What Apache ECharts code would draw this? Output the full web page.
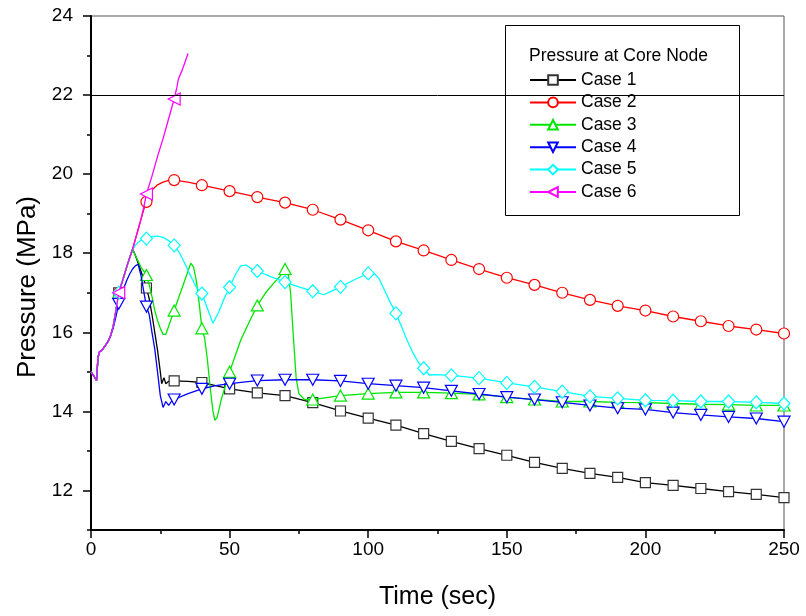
<!DOCTYPE html>
<html><head><meta charset="utf-8">
<script src="https://cdn.jsdelivr.net/npm/echarts@6/dist/echarts.min.js"></script>
<style>html,body{margin:0;padding:0;background:#fff}#c{width:806px;height:616px}</style>
</head><body><div id="c"></div>
<script>
// ---- data (time in sec, pressure in MPa) ----
const seriesNames = ['Case 1', 'Case 2', 'Case 3', 'Case 4', 'Case 5', 'Case 6'];
const legendTitle = 'Pressure at Core Node';
const xName = 'Time (sec)';
const yName = 'Pressure (MPa)';
const yMajorTicks = [12, 14, 16, 18, 20, 22, 24];
const yMinorTicks = [11, 13, 15, 17, 19, 21, 23];
const limitPressure = 22;

// shared initial transient (all cases)
const earlyTime = [0, 1, 2, 2.5, 3, 4, 5, 6, 7, 8, 9, 10, 11, 12, 13, 14, 15];
const earlyP = [15.0, 14.9, 14.78, 15.35, 15.5, 15.55, 15.65, 15.75, 15.9, 16.15, 16.55, 17.0, 17.22, 17.45, 17.68, 17.9, 18.1];

const case1Time = [16,17,18,19,20,21,22,23,24,25,25.5,26.3,27,28,30,35,40,45,50,55,60,70,80,90,100,110,120,130,140,150,160,170,180,190,200,210,220,230,240,250];
const case1P = [17.95,17.75,17.55,17.35,17.12,16.85,16.45,16.0,15.55,15.0,14.7,14.85,14.7,14.76,14.77,14.76,14.73,14.65,14.57,14.52,14.47,14.4,14.22,14.01,13.83,13.65,13.44,13.24,13.06,12.89,12.71,12.56,12.43,12.33,12.2,12.13,12.05,11.97,11.9,11.82];

const case2Time = [16,17,18,19,20,21,22,24,26,28,30,35,40,50,60,70,80,90,100,110,120,130,140,150,160,170,180,190,200,210,220,230,240,250];
const case2P = [18.35,18.6,18.85,19.1,19.3,19.48,19.6,19.73,19.8,19.84,19.85,19.8,19.72,19.57,19.42,19.28,19.1,18.85,18.58,18.3,18.07,17.83,17.6,17.38,17.2,17.0,16.82,16.67,16.55,16.4,16.28,16.16,16.07,15.97];

const case3Time = [16,17,18,19,20,21,22,23,24,25,26,27,28,29,30,32,34,36,37,38,39,40,41,42,43,44,44.7,45.5,47,50,52,54,57,60,63,66,68,70,71,72,73,74,75,77,80,90,100,110,120,130,140,150,160,170,180,190,200,210,220,230,240,250];
const case3P = [17.95,17.8,17.65,17.55,17.45,17.2,16.9,16.55,16.3,16.1,15.95,15.95,16.15,16.35,16.55,16.95,17.35,17.75,17.65,17.3,16.75,16.1,15.85,15.3,14.6,14.0,13.77,13.85,14.3,15.0,15.4,15.8,16.25,16.68,17.0,17.25,17.4,17.6,17.55,17.0,15.9,14.85,14.45,14.3,14.3,14.4,14.45,14.48,14.48,14.46,14.43,14.36,14.3,14.25,14.25,14.23,14.22,14.2,14.18,14.17,14.15,14.15];

const case4Time = [8,9,10,11,12,13,14,15,16,17,18,19,20,21,22,23,24,25,26,27,28,29,30,35,40,45,50,60,70,80,90,100,110,120,130,140,150,160,170,180,190,200,210,220,230,240,250];
const case4P = [16.1,16.4,16.72,16.95,17.15,17.33,17.48,17.6,17.68,17.72,17.45,17.05,16.65,16.45,16.0,15.58,15.0,14.4,14.1,14.25,14.15,14.25,14.3,14.45,14.57,14.65,14.7,14.78,14.8,14.8,14.77,14.7,14.65,14.6,14.52,14.44,14.36,14.3,14.23,14.15,14.08,14.05,13.97,13.91,13.86,13.82,13.74];

const case5Time = [16,17,18,20,22,24,26,28,30,32,34,36,38,40,42,44,46,48,50,52,54,56,58,60,65,70,75,80,84,87,90,95,100,102,104,106,108,110,112,114,116,118,120,122,125,130,140,150,160,170,180,190,200,210,220,230,240,250];
const case5P = [18.2,18.28,18.33,18.37,18.42,18.43,18.4,18.32,18.2,18.0,17.72,17.42,17.14,16.98,16.6,16.23,16.5,16.85,17.14,17.45,17.68,17.7,17.6,17.55,17.4,17.27,17.15,17.04,16.95,17.05,17.15,17.33,17.49,17.5,17.35,17.05,16.75,16.48,16.15,15.8,15.5,15.25,15.09,14.92,14.93,14.91,14.84,14.72,14.62,14.5,14.38,14.33,14.28,14.27,14.25,14.25,14.23,14.2];

const case6Time = [16,17,18,19,20,22,24,26,28,30,31,31.5,32,33,34,35];
const case6P = [18.35,18.6,18.85,19.15,19.5,19.95,20.45,20.9,21.4,21.9,22.2,22.4,22.35,22.65,22.85,23.05];

// ---- build ----
const FONT = '"Liberation Sans", Arial, sans-serif';
function join(tA, pA, tB, pB) { return { t: tA.concat(tB), p: pA.concat(pB) }; }
const early4T = earlyTime.filter(t => t < 8);
const early4P = earlyP.slice(0, early4T.length);
const cases = [
  join(earlyTime, earlyP, case1Time, case1P),
  join(earlyTime, earlyP, case2Time, case2P),
  join(earlyTime, earlyP, case3Time, case3P),
  join(early4T, early4P, case4Time, case4P),
  join(earlyTime, earlyP, case5Time, case5P),
  join(earlyTime, earlyP, case6Time, case6P)
];
cases.forEach((c, i) => { if (c.t.length !== c.p.length) throw new Error('length mismatch case ' + (i + 1)); });
function build(c) {
  return c.t.map((t, i) => {
    const item = { value: [t, c.p[i]] };
    if (!(t > 0 && t % 10 === 0)) item.symbol = 'none';
    return item;
  });
}
const colors = ['#000000', '#ff0000', '#00e600', '#0000ff', '#00ffff', '#ff00ff'];
const markerBorder = ['#333333', '#ff0000', '#00e600', '#0000ff', '#00ffff', '#ff00ff'];
const symbols = ['rect', 'circle', 'triangle', 'triangle', 'diamond', 'triangle'];
const symbolSizes = [[10, 10], [11, 11], [12, 11], [12, 11], [12, 13], [12, 12]];
const symbolRot = [0, 0, 0, 180, 0, 90];

const series = cases.map((c, i) => {
  const s = {
    name: seriesNames[i], type: 'line', data: build(c),
    symbol: symbols[i], symbolSize: symbolSizes[i], symbolRotate: symbolRot[i],
    showAllSymbol: true, smooth: false,
    lineStyle: { color: colors[i], width: 1.3 },
    itemStyle: { color: '#ffffff', borderColor: markerBorder[i], borderWidth: 1.2 },
    emphasis: { disabled: true }, z: 2 + i * 0.01
  };
  if (i === 0) {
    s.markLine = {
      silent: true, symbol: ['none', 'none'], label: { show: false },
      lineStyle: { color: '#000', width: 1, type: 'solid' },
      data: [{ yAxis: limitPressure }]
    };
  }
  return s;
});

const chart = echarts.init(document.getElementById('c'), null, { renderer: 'canvas' });
chart.setOption({
  animation: false,
  backgroundColor: '#ffffff',
  textStyle: { fontFamily: FONT },
  grid: { left: 91, right: 22, top: 16, bottom: 86, show: true, borderColor: '#555', borderWidth: 1, backgroundColor: 'transparent' },
  xAxis: {
    type: 'value', min: 0, max: 250, interval: 50,
    axisLine: { show: true, lineStyle: { color: '#000', width: 2 } },
    axisTick: { show: true, length: 8, lineStyle: { color: '#000', width: 1.5 } },
    minorTick: { show: true, splitNumber: 2, length: 4, lineStyle: { color: '#000', width: 1.5 } },
    axisLabel: { fontSize: 19, color: '#000', margin: 10, fontFamily: FONT },
    splitLine: { show: false },
    name: xName, nameLocation: 'middle', nameGap: 55,
    nameTextStyle: { fontSize: 25, color: '#000', fontFamily: FONT }
  },
  yAxis: [{
    type: 'value', min: 11, max: 24, position: 'left',
    axisLine: { show: true, lineStyle: { color: '#000', width: 2 } },
    axisTick: { show: true, length: 8, customValues: yMajorTicks, lineStyle: { color: '#000', width: 1.5 } },
    axisLabel: { customValues: yMajorTicks, fontSize: 19, color: '#000', margin: 18, fontFamily: FONT },
    splitLine: { show: false },
    name: yName, nameLocation: 'middle', nameGap: 50,
    nameTextStyle: { fontSize: 26, color: '#000', fontFamily: FONT, padding: [0, 28, 0, 0] }
  }, {
    type: 'value', min: 11, max: 24, position: 'left',
    axisLine: { show: false },
    axisTick: { show: true, length: 4, customValues: yMinorTicks, lineStyle: { color: '#000', width: 1.5 } },
    axisLabel: { show: false },
    splitLine: { show: false }
  }],
  legend: {
    orient: 'vertical', left: 529, top: 71, padding: 0,
    itemWidth: 46, itemHeight: 12, itemGap: 4.4,
    textStyle: { fontSize: 17.5, color: '#000', fontFamily: FONT },
    data: seriesNames, selectedMode: false, z: 6
  },
  graphic: [
    { type: 'rect', left: 505, top: 25, z: 4, silent: true,
      shape: { width: 234, height: 190 },
      style: { fill: '#fff', stroke: '#000', lineWidth: 1 } },
    { type: 'text', left: 529, top: 47, z: 5, silent: true,
      style: { text: legendTitle, fontSize: 17.5, fill: '#000', fontFamily: FONT } }
  ],
  series: series
});
</script>
</body></html>
